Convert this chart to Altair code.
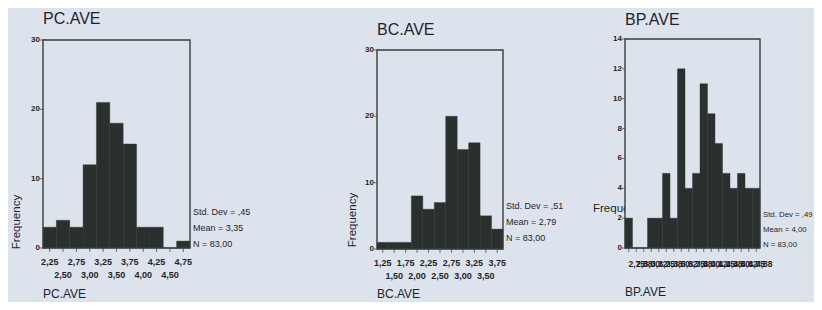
import altair as alt
import pandas as pd

BG = "#dde3ec"
BAR = "#2a302e"
FRAME = "#34403b"
TXT = "#1f2328"
FONT = "Liberation Sans"

# ---------------- data ----------------
pc_centers = [2.25, 2.50, 2.75, 3.00, 3.25, 3.50, 3.75, 4.00, 4.25, 4.50, 4.75]
pc_counts = [3, 4, 3, 12, 21, 18, 15, 3, 3, 0, 1]
pc_stats = ["Std. Dev = ,45", "Mean = 3,35", "N = 83,00"]
pc_yticks = [0, 10, 20, 30]

bc_centers = [1.25, 1.50, 1.75, 2.00, 2.25, 2.50, 2.75, 3.00, 3.25, 3.50, 3.75]
bc_counts = [1, 1, 1, 8, 6, 7, 20, 15, 16, 5, 3]
bc_stats = ["Std. Dev = ,51", "Mean = 2,79", "N = 83,00"]
bc_yticks = [0, 10, 20, 30]

bp_centers = [2.750, 2.875, 3.000, 3.125, 3.250, 3.375, 3.500, 3.625, 3.750,
              3.875, 4.000, 4.125, 4.250, 4.375, 4.500, 4.625, 4.750, 4.875]
bp_counts = [2, 0, 0, 2, 2, 5, 2, 12, 4, 5, 11, 9, 7, 5, 4, 5, 4, 4]
bp_stats = ["Std. Dev = ,49", "Mean = 4,00", "N = 83,00"]
bp_yticks = [0, 2, 4, 6, 8, 10, 12, 14]

W, H = 806, 294


def comma(v):
    return f"{v:.2f}".replace(".", ",")


def panel(name, centers, counts, binw, yticks, stats, box, two_rows,
          title_y, xtitle_y, stats_y, stats_lh, stats_fs, freq, freq_d):
    x0, x1, ytop, ybot = box
    lo = centers[0] - binw / 2
    hi = centers[-1] + binw / 2
    ymax = yticks[-1]
    xs = alt.Scale(domain=[lo, hi], range=[x0, x1], nice=False, zero=False)
    ys = alt.Scale(domain=[0, ymax], range=[ybot, ytop], nice=False, zero=True)

    def X(f):
        return alt.X(f, scale=xs, axis=None)

    def Y(f):
        return alt.Y(f, scale=ys, axis=None)

    box_df = pd.DataFrame({"bx": [lo], "bx2": [hi], "by": [0], "by2": [ymax]})
    bars_df = pd.DataFrame({
        "lo": [c - binw / 2 for c in centers],
        "hi": [c + binw / 2 for c in centers],
        "n": counts,
        "z": [0] * len(counts),
    })
    xt_df = pd.DataFrame({
        "c": centers,
        "z": [0] * len(centers),
        "lab": [comma(c) for c in centers],
        "row": [(round(c * 4) % 2) if two_rows else 1 for c in centers],
    })
    yt_df = pd.DataFrame({"v": yticks, "x": [lo] * len(yticks),
                          "lab": [str(v) for v in yticks]})

    layers = []
    # tick marks (inner half hidden by the frame fill)
    layers.append(alt.Chart(yt_df).mark_tick(
        orient="horizontal", size=6, thickness=1, color=FRAME
    ).encode(x=X("x:Q"), y=Y("v:Q")))
    layers.append(alt.Chart(xt_df).mark_tick(
        orient="vertical", size=8, thickness=1, color=FRAME
    ).encode(x=X("c:Q"), y=Y("z:Q")))
    # y-axis title
    fdx, fdy = freq_d
    if freq == "vertical":
        layers.append(alt.Chart(box_df).mark_text(
            text="Frequency", angle=270, align="center", baseline="middle",
            font=FONT, fontSize=11.5, color=TXT, dx=fdx, dy=fdy
        ).encode(x=X("bx:Q"), y=Y("by:Q")))
    else:
        layers.append(alt.Chart(box_df).mark_text(
            text="Frequency", align="left", baseline="middle",
            font=FONT, fontSize=11.5, color=TXT, dx=fdx, dy=fdy
        ).encode(x=X("bx:Q"), y=Y("by:Q")))
    # plot frame fill, bars, outline
    layers.append(alt.Chart(box_df).mark_rect(fill=BG, stroke=None).encode(
        x=X("bx:Q"), x2="bx2:Q", y=Y("by:Q"), y2="by2:Q"))
    layers.append(alt.Chart(bars_df).mark_rect(
        color=BAR, stroke=BAR, strokeWidth=0.4
    ).encode(x=X("lo:Q"), x2="hi:Q", y=Y("n:Q"), y2="z:Q"))
    layers.append(alt.Chart(box_df).mark_rect(
        fill=None, fillOpacity=0, stroke=FRAME, strokeWidth=1.4
    ).encode(x=X("bx:Q"), x2="bx2:Q", y=Y("by:Q"), y2="by2:Q"))
    # y tick labels
    layers.append(alt.Chart(yt_df).mark_text(
        align="right", baseline="middle", font=FONT, fontSize=8,
        fontWeight="bold", color=TXT, dx=-3
    ).encode(x=X("x:Q"), y=Y("v:Q"), text="lab:N"))
    # x tick labels
    if two_rows:
        for r, dy in ((1, 14), (0, 27)):
            layers.append(alt.Chart(xt_df).transform_filter(
                alt.datum.row == r
            ).mark_text(
                align="center", baseline="middle", font=FONT, fontSize=9,
                fontWeight="bold", color=TXT, dy=dy
            ).encode(x=X("c:Q"), y=Y("z:Q"), text="lab:N"))
    else:
        layers.append(alt.Chart(xt_df).mark_text(
            align="center", baseline="middle", font=FONT, fontSize=8.5,
            fontWeight="bold", color=TXT, dx=8, dy=16
        ).encode(x=X("c:Q"), y=Y("z:Q"), text="lab:N"))
    # chart title, x title, stats
    layers.append(alt.Chart(box_df).mark_text(
        text=name, align="left", baseline="middle", font=FONT, fontSize=16,
        color=TXT
    ).encode(x=X("bx:Q"), y=alt.value(title_y)))
    layers.append(alt.Chart(box_df).mark_text(
        text=name, align="left", baseline="top", font=FONT, fontSize=12,
        color=TXT
    ).encode(x=X("bx:Q"), y=alt.value(xtitle_y)))
    layers.append(alt.Chart(box_df).mark_text(
        text=stats, align="left", baseline="top", font=FONT,
        fontSize=stats_fs, lineHeight=stats_lh, color=TXT, dx=3,
    ).encode(x=X("bx2:Q"), y=alt.value(stats_y)))
    return alt.layer(*layers)


p1 = panel("PC.AVE", pc_centers, pc_counts, 0.25, pc_yticks, pc_stats,
           (35, 182, 32, 240), True, 11, 281, 200, 16, 9,
           "vertical", (26, -26))
p2 = panel("BC.AVE", bc_centers, bc_counts, 0.25, bc_yticks, bc_stats,
           (369, 495, 42, 241), True, 22, 281, 194, 16, 9,
           "vertical", (29, -24))
p3 = panel("BP.AVE", bp_centers, bp_counts, 0.125, bp_yticks, bp_stats,
           (617, 752, 31, 240), False, 12, 279, 203, 15, 7.8,
           "horizontal", (-32, -39))

chart = alt.layer(p1, p2, p3).resolve_scale(
    x="independent", y="independent"
).properties(
    width=W, height=H, autosize="none", padding=0, background=BG
).configure_view(stroke=None)

chart.save("out.html", embed_options={"renderer": "svg", "actions": False})
